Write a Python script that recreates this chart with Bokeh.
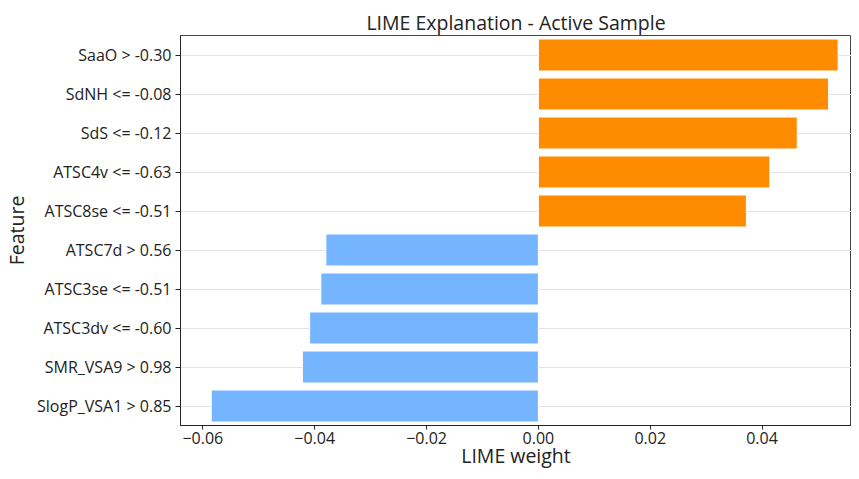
from bokeh.plotting import figure
from bokeh.models import FactorRange, Range1d, FixedTicker, CustomJSTickFormatter, ColumnDataSource
from bokeh.embed import file_html
from bokeh.resources import INLINE

features = ["SaaO > -0.30", "SdNH <= -0.08", "SdS <= -0.12", "ATSC4v <= -0.63",
            "ATSC8se <= -0.51", "ATSC7d > 0.56", "ATSC3se <= -0.51", "ATSC3dv <= -0.60",
            "SMR_VSA9 > 0.98", "SlogP_VSA1 > 0.85"]
weights = [0.0536, 0.0519, 0.0463, 0.0414, 0.0372,
           -0.0380, -0.0389, -0.0409, -0.0422, -0.0585]
x_ticks = [-0.06, -0.04, -0.02, 0.00, 0.02, 0.04]

POS = "#FF8C00"
NEG = "#75B4FF"
colors = [POS if w > 0 else NEG for w in weights]

src = ColumnDataSource(dict(feature=features, weight=weights, color=colors))

FONT = "Open Sans"
p = figure(width=851, height=471, output_backend="svg", toolbar_location=None,
           y_range=FactorRange(factors=list(reversed(features)), range_padding=0),
           x_range=Range1d(-0.064, 0.056),
           title="LIME Explanation - Active Sample",
           min_border_right=0, min_border_left=0, min_border_top=0, min_border_bottom=0)

p.hbar(y="feature", right="weight", left=0, height=0.82, color="color",
       line_color="white", line_width=1, source=src)

p.title.align = "center"
p.title.text_font = FONT
p.title.text_font_size = "19.5px"
p.title.text_font_style = "normal"
p.title.text_color = "#222222"
p.title.offset = 0
p.title.standoff = 0
p.title.padding = dict(top=6, right=0, bottom=0, left=0)

p.xaxis.ticker = FixedTicker(ticks=x_ticks)
p.xaxis.formatter = CustomJSTickFormatter(code="return (tick < -1e-9 ? '\\u2212' : '') + Math.abs(tick).toFixed(2);")
p.xaxis.axis_label = "LIME weight"
p.yaxis.axis_label = "Feature"

for ax in (p.xaxis, p.yaxis):
    ax.axis_label_text_font = FONT
    ax.axis_label_text_font_size = "19.5px"
    ax.axis_label_text_font_style = "normal"
    ax.axis_label_text_color = "#222222"
    ax.major_label_text_font = FONT
    ax.major_label_text_font_size = "16px"
    ax.major_label_text_color = "#222222"
    ax.minor_tick_line_color = None
    ax.major_tick_in = 0
    ax.major_tick_out = 5
    ax.major_tick_line_color = "#222222"
    ax.axis_line_color = "#222222"

p.yaxis.major_label_standoff = 4
p.yaxis.axis_label_standoff = 4
p.xaxis.major_tick_out = 4
p.xaxis.major_label_standoff = 2
p.xaxis.axis_label_standoff = -5

p.xgrid.grid_line_color = None
p.ygrid.grid_line_color = "#e3e3e3"
p.ygrid.grid_line_width = 1
p.outline_line_color = "#444444"
p.outline_line_width = 1
p.background_fill_color = "white"

open("out.html", "w").write(file_html(p, INLINE))
